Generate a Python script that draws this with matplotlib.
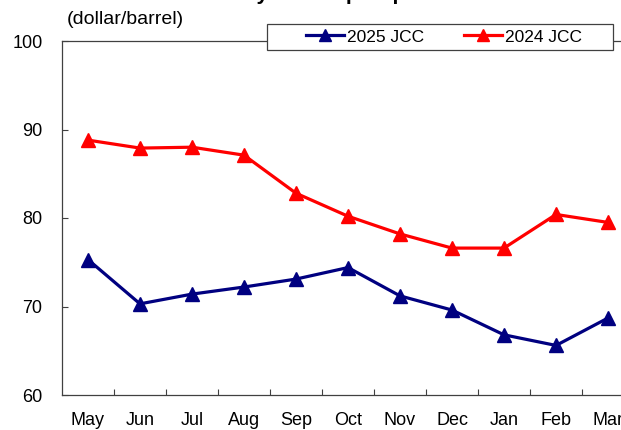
import matplotlib
matplotlib.use("Agg")
import matplotlib.pyplot as plt
from matplotlib.patches import Rectangle

months = ["May", "Jun", "Jul", "Aug", "Sep", "Oct", "Nov", "Dec", "Jan", "Feb", "Mar"]
jcc_2025 = [75.3, 70.3, 71.4, 72.2, 73.1, 74.4, 71.2, 69.6, 66.8, 65.6, 68.7]
jcc_2024 = [88.8, 87.9, 88.0, 87.1, 82.8, 80.2, 78.2, 76.6, 76.6, 80.4, 79.5]
yticks = [60, 70, 80, 90, 100]

plt.rcParams['font.family'] = ['Liberation Sans', 'DejaVu Sans']

W, H = 621, 430
fig = plt.figure(figsize=(W / 100, H / 100), dpi=100)
ax = fig.add_axes([62 / W, 35 / H, 572 / W, 354 / H])

x = list(range(len(months)))
ax.plot(x, jcc_2025, color="#000080", lw=2.3, marker="^", ms=10, label="2025 JCC")
ax.plot(x, jcc_2024, color="#FF0000", lw=2.3, marker="^", ms=10, label="2024 JCC")

ax.set_xlim(-0.5, len(months) - 0.5)
ax.set_ylim(60, 100)
ax.set_yticks(yticks)
ax.set_yticklabels([str(v) for v in yticks])
ax.set_xticks(x)
ax.set_xticklabels(months)
ax.set_xticks([i + 0.5 for i in x[:-1]], minor=True)
ax.tick_params(axis="x", which="major", length=0, pad=12, labelsize=13)
ax.tick_params(axis="x", which="minor", length=4, direction="in", width=0.8, color="#404040")
ax.tick_params(axis="y", length=4, direction="in", width=0.8, color="#404040", pad=14, labelsize=13)
for s in ax.spines.values():
    s.set_color("#404040")
    s.set_linewidth(0.9)

fig.text(67 / W, 1 - 20 / H, "(dollar/barrel)", fontsize=14, va="center", ha="left")
fig.text(315 / W, 1 + 0.5 / H, "Monthly JCC import price", fontsize=15, fontweight="bold",
         ha="center", va="baseline")

rect = Rectangle((267 / W, 1 - 50 / H), 346 / W, 26 / H, transform=fig.transFigure,
                 facecolor="white", edgecolor="#404040", lw=0.9, zorder=5)
fig.patches.append(rect)
handles, labels = ax.get_legend_handles_labels()
leg = fig.legend(handles, labels, loc="center", bbox_to_anchor=(444 / W, 1 - 37 / H),
                 ncol=2, frameon=False, fontsize=12.5, handlelength=2.2, handletextpad=0.15,
                 columnspacing=2.3, numpoints=1, markerscale=0.9)
leg.set_zorder(6)

fig.savefig("out.png", dpi=100)
